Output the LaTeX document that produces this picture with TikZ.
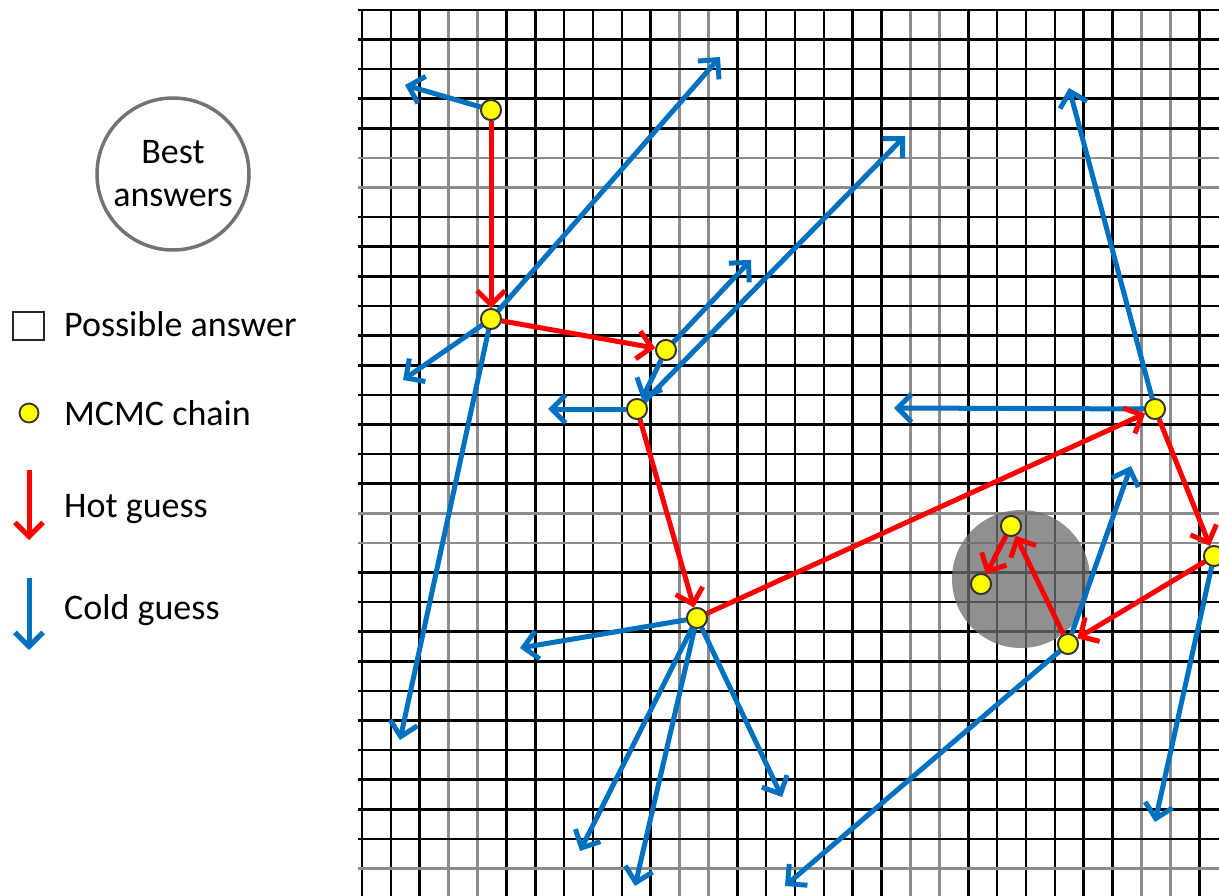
\documentclass[tikz,border=0pt]{standalone}
\usepackage{fontspec}
\setmainfont{Carlito}
\usetikzlibrary{arrows.meta}
\definecolor{cblue}{HTML}{0070C0}
\definecolor{cred}{HTML}{FF0000}
\definecolor{cyel}{HTML}{FFFF00}
\begin{document}
\begin{tikzpicture}[x=1pt,y=-1pt,
  mcmc/.style={circle,fill=cyel,draw=black!80,line width=1.8pt,minimum size=20pt,inner sep=0pt},
  hot/.style={cred,line width=5pt,-{Straight Barb[length=14pt,width=28pt]}},
  cold/.style={cblue,line width=5pt,-{Straight Barb[length=14pt,width=28pt]}},
  lbl/.style={font=\fontsize{36}{40}\selectfont,anchor=base west,inner sep=0pt}]
\useasboundingbox (0,0) rectangle (1219,896);
\clip (0,0) rectangle (1219,896);
% grid
\foreach \k in {0,...,29}{
  \pgfmathtruncatemacro\m{mod(\k,8)}
  \ifnum\m=3 \def\gc{black!45}\else\ifnum\m=4 \def\gc{black!45}\else\def\gc{black}\fi\fi
  \draw[line width=2.6pt,draw=\gc] (362+28.87*\k,10) -- (362+28.87*\k,900);
}
\foreach \k in {0,...,30}{
  \pgfmathtruncatemacro\m{mod(\k,12)}
  \ifnum\m=5 \def\gc{black!45}\else\ifnum\m=6 \def\gc{black!45}\else\def\gc{black}\fi\fi
  \draw[line width=2.6pt,draw=\gc] (358,10+29.6*\k) -- (1225,10+29.6*\k);
}
% best answers region
\fill[black!57,opacity=0.77] (1021,579) circle[radius=69];
% chain nodes
\node[mcmc] (A) at (491,110) {};
\node[mcmc] (B) at (491,319) {};
\node[mcmc] (C) at (666,350) {};
\node[mcmc] (D) at (637,409) {};
\node[mcmc] (E) at (697,618) {};
\node[mcmc] (F) at (1155,409) {};
\node[mcmc] (G) at (1214,556) {};
\node[mcmc] (H) at (1068,644) {};
\node[mcmc] (I) at (1011,526) {};
\node[mcmc] (J) at (981,584) {};
% cold guess ends
\coordinate (a1) at (405,85);
\coordinate (b1) at (720,57);
\coordinate (b2) at (403,380);
\coordinate (b3) at (400,740);
\coordinate (c1) at (751,260);
\coordinate (d1) at (905,136);
\coordinate (d2) at (548,409);
\coordinate (e1) at (520,648);
\coordinate (e2) at (580,851);
\coordinate (e3) at (635,886);
\coordinate (e4) at (782,797);
\coordinate (f1) at (1069,88);
\coordinate (f2) at (894,408);
\coordinate (h1) at (1131,466);
\coordinate (h2) at (785,886);
\coordinate (g1) at (1155,822);
% cold guesses
\draw[cold] (A) -- (a1);
\draw[cold] (B) -- (b1);
\draw[cold] (B) -- (b2);
\draw[cold] (B) -- (b3);
\draw[cold] (C) -- (c1);
\draw[cold] (C) -- (D);
\draw[cold] (D) -- (d1);
\draw[cold] (D) -- (d2);
\draw[cold] (E) -- (e1);
\draw[cold] (E) -- (e2);
\draw[cold] (E) -- (e3);
\draw[cold] (E) -- (e4);
\draw[cold] (F) -- (f1);
\draw[cold] (F) -- (f2);
\draw[cold] (H) -- (h1);
\draw[cold] (H) -- (h2);
\draw[cold] (G) -- (g1);
% hot guesses
\draw[hot] (A) -- (B);
\draw[hot] (B) -- (C);
\draw[hot] (D) -- (E);
\draw[hot] (E) -- (F);
\draw[hot] (F) -- (G);
\draw[hot] (G) -- (H);
\draw[hot] (H) -- (I);
\draw[hot] (I) -- (J);
% redraw nodes on top
\foreach \n in {A,B,C,D,E,F,G,H,I,J}{
  \path (\n) node[mcmc] {};
}
% legend
\node[circle,draw=black!55,line width=3.5pt,minimum size=152pt,inner sep=0pt,
      font=\fontsize{36}{43}\selectfont,align=center] (best) at (173,174) {Best\\answers};
\node[draw=black!85,line width=2.5pt,minimum width=31pt,minimum height=28pt,inner sep=0pt] (sq) at (28.5,326) {};
\node[lbl] (tsq) at (64,337) {Possible answer};
\node[mcmc,minimum size=19pt] (dot) at (29,413) {};
\node[lbl] (tdot) at (64,425) {MCMC chain};
\coordinate (h0) at (29,470);
\coordinate (h9) at (29,540);
\draw[hot] (h0) -- (h9);
\node[lbl] (thot) at (64,517) {Hot guess};
\coordinate (c0) at (29,578);
\coordinate (c9) at (29,650);
\draw[cold] (c0) -- (c9);
\node[lbl] (tcold) at (64,619) {Cold guess};
\end{tikzpicture}
\end{document}
